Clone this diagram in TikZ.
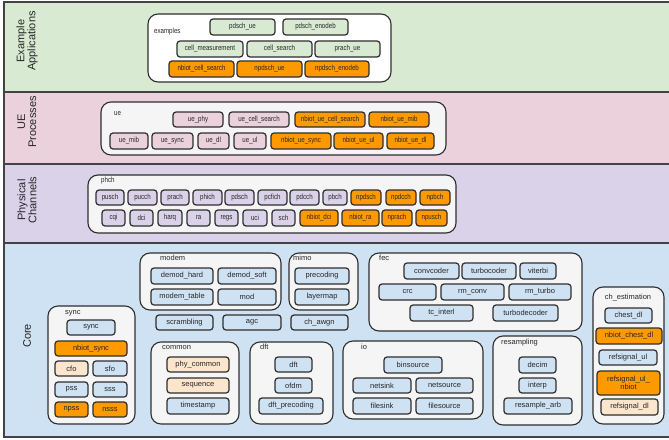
\documentclass[tikz,border=0pt]{standalone}
\usepackage{fontspec}
\setmainfont{Liberation Sans}
\newfontfamily\condfont[FakeStretch=0.82]{Liberation Sans}
\definecolor{bgA}{HTML}{D9EAD3}
\definecolor{bgB}{HTML}{EAD1DC}
\definecolor{bgC}{HTML}{D9D2E9}
\definecolor{bgD}{HTML}{CFE2F3}
\definecolor{orng}{HTML}{FF9900}
\definecolor{peach}{HTML}{FCE5CD}
\definecolor{contfill}{HTML}{F5F5F5}
\definecolor{lineclr}{HTML}{2E2E2E}
\definecolor{bandline}{HTML}{434343}
\definecolor{txt}{HTML}{262626}
\newcommand\bx[7]{%
  \pgfmathsetmacro\myW{#5-#3}\pgfmathsetmacro\myH{#6-#4}%
  \pgfmathsetmacro\myX{(#3+#5)/2}\pgfmathsetmacro\myY{(#4+#6)/2}%
  \node[#2,minimum width=\myW pt,minimum height=\myH pt] (#1) at (\myX,\myY) {#7};}
\begin{document}
\begin{tikzpicture}[x=1pt,y=-1pt,
  box/.style={draw=lineclr,line width=1.2pt,rounded corners=3pt,inner sep=0pt,outer sep=0pt,
    text=txt,font=\fontsize{7.5}{8.5}\selectfont,align=center},
  cbox/.style={box,font=\condfont\fontsize{7.5}{8.5}\selectfont},
  cont/.style={draw=lineclr,line width=1.1pt,rounded corners=10pt,fill=contfill,inner sep=0pt,outer sep=0pt},
  lbl/.style={anchor=base west,inner sep=0pt,text=txt,font=\fontsize{7.5}{8.5}\selectfont},
  clbl/.style={lbl,font=\condfont\fontsize{7.5}{8.5}\selectfont},
  bandlabel/.style={rotate=90,align=center,inner sep=0pt,text=txt,font=\fontsize{11}{11}\selectfont},
  ob/.style={box,fill=orng},
  pb/.style={box,fill=peach},
  cb/.style={box,fill=bgD},
]
\useasboundingbox (0,0) rectangle (669,439);
% bands
\fill[bgA] (4,2) rectangle (672,92);
\fill[bgB] (4,92) rectangle (672,164);
\fill[bgC] (4,164) rectangle (672,243);
\fill[bgD] (4,243) rectangle (672,437);
\draw[bandline,line width=1.8pt] (672,2) -- (4,2) -- (4,437) -- (672,437);
\draw[bandline,line width=1.8pt] (4,92) -- (672,92);
\draw[bandline,line width=1.8pt] (4,164) -- (672,164);
\draw[bandline,line width=1.8pt] (4,243) -- (672,243);
\node[bandlabel] (labA) at (27,41) {Example\\Applications};
\node[bandlabel] (labB) at (27,122) {UE\\Processes};
\node[bandlabel] (labC) at (27,200) {Physical\\Channels};
\node[bandlabel] (labD) at (27,336) {Core};

% ---------------- Example applications
\bx{examples}{cont,fill=white}{148}{14}{391}{82}{}
\node[clbl] (examples-l) at (154,33) {examples};
\bx{pdschue}{cbox,fill=bgA}{210}{19}{275}{35}{pdsch\_ue}
\bx{pdschenodeb}{cbox,fill=bgA}{283}{19}{348}{35}{pdsch\_enodeb}
\bx{cellmeas}{cbox,fill=bgA}{177}{41}{243}{57}{cell\_measurement}
\bx{cellsearch}{cbox,fill=bgA}{247}{41}{312}{57}{cell\_search}
\bx{prachue}{cbox,fill=bgA}{315}{41}{380}{57}{prach\_ue}
\bx{nbcellsearch}{cbox,fill=orng}{169}{61}{234}{77}{nbiot\_cell\_search}
\bx{npdschue}{cbox,fill=orng}{237}{61}{302}{77}{npdsch\_ue}
\bx{npdschenodeb}{cbox,fill=orng}{305}{61}{369}{77}{npdsch\_enodeb}

% ---------------- UE processes
\bx{ue}{cont}{101}{102}{446}{155}{}
\node[clbl] (ue-l) at (114,115) {ue};
\bx{uephy}{cbox,fill=bgB}{173}{112}{223}{127}{ue\_phy}
\bx{uecellsearch}{cbox,fill=bgB}{229}{112}{289}{127}{ue\_cell\_search}
\bx{nbuecellsearch}{cbox,fill=orng}{295}{112}{365}{127}{nbiot\_ue\_cell\_search}
\bx{nbuemib}{cbox,fill=orng}{369}{112}{429}{127}{nbiot\_ue\_mib}
\bx{uemib}{cbox,fill=bgB}{110}{133}{148}{149}{ue\_mib}
\bx{uesync}{cbox,fill=bgB}{152}{133}{193}{149}{ue\_sync}
\bx{uedl}{cbox,fill=bgB}{198}{133}{229}{149}{ue\_dl}
\bx{ueul}{cbox,fill=bgB}{234}{133}{266}{149}{ue\_ul}
\bx{nbuesync}{cbox,fill=orng}{271}{133}{331}{149}{nbiot\_ue\_sync}
\bx{nbueul}{cbox,fill=orng}{334}{133}{383}{149}{nbiot\_ue\_ul}
\bx{nbuedl}{cbox,fill=orng}{387}{133}{434}{149}{nbiot\_ue\_dl}

% ---------------- Physical channels
\bx{phch}{cont}{88}{175}{456}{233}{}
\node[clbl] (phch-l) at (101,182) {phch};
\bx{pusch}{cbox,fill=bgC}{96}{190}{124}{205}{pusch}
\bx{pucch}{cbox,fill=bgC}{128}{190}{157}{205}{pucch}
\bx{prach}{cbox,fill=bgC}{161}{190}{189}{205}{prach}
\bx{phich}{cbox,fill=bgC}{193}{190}{222}{205}{phich}
\bx{pdsch}{cbox,fill=bgC}{225}{190}{254}{205}{pdsch}
\bx{pcfich}{cbox,fill=bgC}{258}{190}{287}{205}{pcfich}
\bx{pdcch}{cbox,fill=bgC}{290}{190}{319}{205}{pdcch}
\bx{pbch}{cbox,fill=bgC}{323}{190}{347}{205}{pbch}
\bx{npdsch}{cbox,fill=orng}{351}{190}{381}{205}{npdsch}
\bx{npdcch}{cbox,fill=orng}{386}{190}{416}{205}{npdcch}
\bx{npbch}{cbox,fill=orng}{420}{190}{450}{205}{npbch}
\bx{cqi}{cbox,fill=bgC}{102}{210}{125}{226}{cqi}
\bx{dci}{cbox,fill=bgC}{130}{210}{153}{226}{dci}
\bx{harq}{cbox,fill=bgC}{158}{210}{182}{226}{harq}
\bx{ra}{cbox,fill=bgC}{187}{210}{210}{226}{ra}
\bx{regs}{cbox,fill=bgC}{215}{210}{238}{226}{regs}
\bx{uci}{cbox,fill=bgC}{243}{210}{267}{226}{uci}
\bx{sch}{cbox,fill=bgC}{272}{210}{295}{226}{sch}
\bx{nbdci}{cbox,fill=orng}{300}{210}{338}{226}{nbiot\_dci}
\bx{nbra}{cbox,fill=orng}{342}{210}{379}{226}{nbiot\_ra}
\bx{nprach}{cbox,fill=orng}{382}{210}{412}{226}{nprach}
\bx{npusch}{cbox,fill=orng}{416}{210}{447}{226}{npusch}

% ---------------- Core
\bx{modem}{cont}{140}{253}{281}{310}{}
\node[lbl] (modem-l) at (160,260.5) {modem};
\bx{demodhard}{cb}{151}{268}{213}{284}{demod\_hard}
\bx{demodsoft}{cb}{218}{268}{276}{284}{demod\_soft}
\bx{modemtable}{cb}{151}{289}{213}{305}{modem\_table}
\bx{mod}{cb}{218}{289}{276}{305}{mod}

\bx{mimo}{cont}{289}{253}{358}{310}{}
\node[lbl] (mimo-l) at (293,260.5) {mimo};
\bx{precoding}{cb}{295}{268}{349}{284}{precoding}
\bx{layermap}{cb}{295}{289}{349}{305}{layermap}

\bx{scrambling}{cb}{156}{315}{213}{330}{scrambling}
\bx{agc}{cb}{223}{315}{281}{330}{agc}
\bx{chawgn}{cb}{291}{315}{348}{330}{ch\_awgn}

\bx{fec}{cont}{369}{253}{582}{331}{}
\node[lbl] (fec-l) at (379,260.5) {fec};
\bx{convcoder}{cb}{404}{263}{459}{279}{convcoder}
\bx{turbocoder}{cb}{462}{263}{516}{279}{turbocoder}
\bx{viterbi}{cb}{520}{263}{556}{279}{viterbi}
\bx{crc}{cb}{379}{284}{436}{300}{crc}
\bx{rmconv}{cb}{441}{284}{504}{300}{rm\_conv}
\bx{rmturbo}{cb}{509}{284}{571}{300}{rm\_turbo}
\bx{tcinterl}{cb}{410}{305}{473}{321}{tc\_interl}
\bx{turbodecoder}{cb}{493}{305}{558}{321}{turbodecoder}

\bx{sync}{cont}{48}{306}{135}{424}{}
\node[lbl] (sync-l) at (65,314.5) {sync};
\bx{syncb}{cb}{67}{320}{115}{335}{sync}
\bx{nbsync}{ob}{55}{341}{127}{356}{nbiot\_sync}
\bx{cfo}{pb}{55}{361}{88}{376}{cfo}
\bx{sfo}{cb}{93}{361}{127}{376}{sfo}
\bx{pss}{cb}{55}{382}{88}{397}{pss}
\bx{sss}{cb}{93}{382}{127}{397}{sss}
\bx{npss}{ob}{55}{402}{88}{417}{npss}
\bx{nsss}{ob}{93}{402}{127}{417}{nsss}

\bx{common}{cont}{151}{342}{239}{424}{}
\node[lbl] (common-l) at (162,349.5) {common};
\bx{phycommon}{pb}{167}{357}{229}{372}{phy\_common}
\bx{sequence}{pb}{167}{378}{229}{393}{sequence}
\bx{timestamp}{cb}{167}{398}{229}{414}{timestamp}

\bx{dftc}{cont}{250}{342}{333}{424}{}
\node[lbl] (dft-l) at (260,349.5) {dft};
\bx{dft}{cb}{275}{357}{312}{372}{dft}
\bx{ofdm}{cb}{275}{378}{312}{393}{ofdm}
\bx{dftprecoding}{cb}{259}{398}{323}{414}{dft\_precoding}

\bx{io}{cont}{343}{341}{483}{419}{}
\node[lbl] (io-l) at (361,349.5) {io};
\bx{binsource}{cb}{384}{357}{442}{373}{binsource}
\bx{netsink}{cb}{353}{378}{411}{393}{netsink}
\bx{netsource}{cb}{416}{378}{473}{393}{netsource}
\bx{filesink}{cb}{353}{398}{411}{414}{filesink}
\bx{filesource}{cb}{416}{398}{473}{414}{filesource}

\bx{resampling}{cont}{493}{336}{582}{425}{}
\node[lbl] (resampling-l) at (501,344.5) {resampling};
\bx{decim}{cb}{519}{357}{556}{373}{decim}
\bx{interp}{cb}{519}{378}{556}{393}{interp}
\bx{resamplearb}{cb}{504}{398}{572}{414}{resample\_arb}

\bx{chest}{cont}{593}{287}{664}{424}{}
\node[lbl,anchor=base] (chest-l) at (628,299.5) {ch\_estimation};
\bx{chestdl}{cb}{605}{308}{652}{323}{chest\_dl}
\bx{nbchestdl}{ob}{596}{328}{662}{344}{nbiot\_chest\_dl}
\bx{refsignalul}{cb}{599}{350}{657}{365}{refsignal\_ul}
\bx{refsignalulnb}{ob}{597}{371}{660}{395}{refsignal\_ul\_\\nbiot}
\bx{refsignaldl}{pb}{601}{399}{658}{415}{refsignal\_dl}
\end{tikzpicture}
\end{document}
